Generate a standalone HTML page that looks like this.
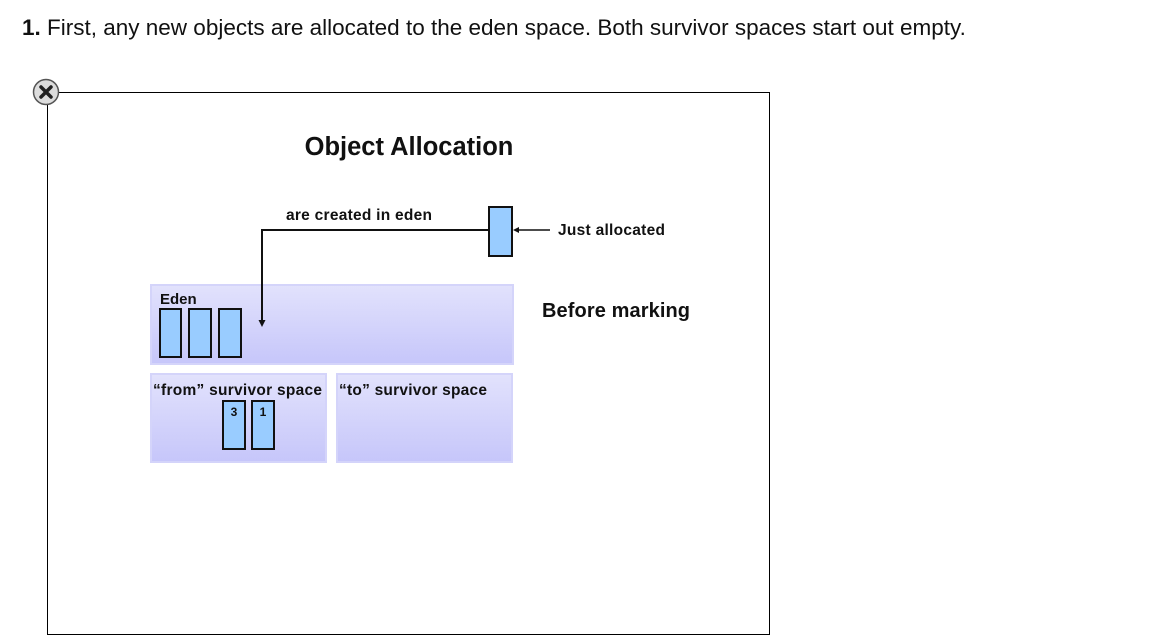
<!DOCTYPE html>
<html><head><meta charset="utf-8"><style>
body{margin:0;width:1168px;height:643px;background:#fff;overflow:hidden;font-family:"Liberation Sans",Arial,sans-serif;position:relative}
.a{position:absolute}
</style></head><body>
<div class="a" style="left:22px;top:15px;font-size:22.5px;color:#111;white-space:nowrap"><b>1.</b> First, any new objects are allocated to the eden space. Both survivor spaces start out empty.</div>
<svg class="a" style="left:0;top:0" width="1168" height="643">
<defs>
<linearGradient id="g" x1="0" y1="0" x2="0" y2="1"><stop offset="0" stop-color="#e2e2fc"/><stop offset="1" stop-color="#c6c6fa"/></linearGradient>
</defs>
<rect x="47.5" y="92.5" width="722" height="542" fill="#fff" stroke="#000" stroke-width="1"/>
<g>
<circle cx="46" cy="92" r="12.5" fill="#ddd" stroke="#555" stroke-width="1.5"/>
<path d="M41 87 L51 97 M51 87 L41 97" stroke="#222" stroke-width="3.5" stroke-linecap="round"/>
</g>
<text x="409" y="155" text-anchor="middle" font-family="Liberation Sans" font-weight="bold" font-size="25.5" fill="#111">Object Allocation</text>
<rect x="151" y="285" width="362" height="79" fill="url(#g)" stroke="#d4d4fa" stroke-width="2"/>
<rect x="151" y="374" width="175" height="88" fill="url(#g)" stroke="#d4d4fa" stroke-width="2"/>
<rect x="337" y="374" width="175" height="88" fill="url(#g)" stroke="#d4d4fa" stroke-width="2"/>
<text x="160" y="304" font-family="Liberation Sans" font-weight="bold" font-size="15" fill="#111">Eden</text>
<text x="153" y="395" font-family="Liberation Sans" font-weight="bold" font-size="15.5" fill="#111" textLength="169">“from” survivor space</text>
<text x="339" y="395" font-family="Liberation Sans" font-weight="bold" font-size="15.5" fill="#111" textLength="148">“to” survivor space</text>
<g fill="#99ccff" stroke="#111" stroke-width="2">
<rect x="160" y="309" width="21" height="48"/>
<rect x="189" y="309" width="22" height="48"/>
<rect x="219" y="309" width="22" height="48"/>
<rect x="223" y="401" width="22" height="48"/>
<rect x="252" y="401" width="22" height="48"/>
<rect x="489" y="207" width="23" height="49"/>
</g>
<text x="234" y="416" text-anchor="middle" font-family="Liberation Sans" font-weight="bold" font-size="12" fill="#111">3</text>
<text x="263" y="416" text-anchor="middle" font-family="Liberation Sans" font-weight="bold" font-size="12" fill="#111">1</text>
<path d="M488 230 H262 V322" fill="none" stroke="#111" stroke-width="2"/>
<path d="M258.5 320 L262 327 L265.5 320Z" fill="#111"/>
<path d="M550 230 H517" stroke="#111" stroke-width="1.5"/>
<path d="M519 227 L513 230 L519 233Z" fill="#111"/>
<text x="286" y="220" font-family="Liberation Sans" font-weight="bold" font-size="15.5" fill="#111" textLength="146">are created in eden</text>
<text x="558" y="235" font-family="Liberation Sans" font-weight="bold" font-size="15.5" fill="#111" textLength="107">Just allocated</text>
<text x="542" y="317" font-family="Liberation Sans" font-weight="bold" font-size="20" fill="#111" textLength="148">Before marking</text>
</svg>
</body></html>
